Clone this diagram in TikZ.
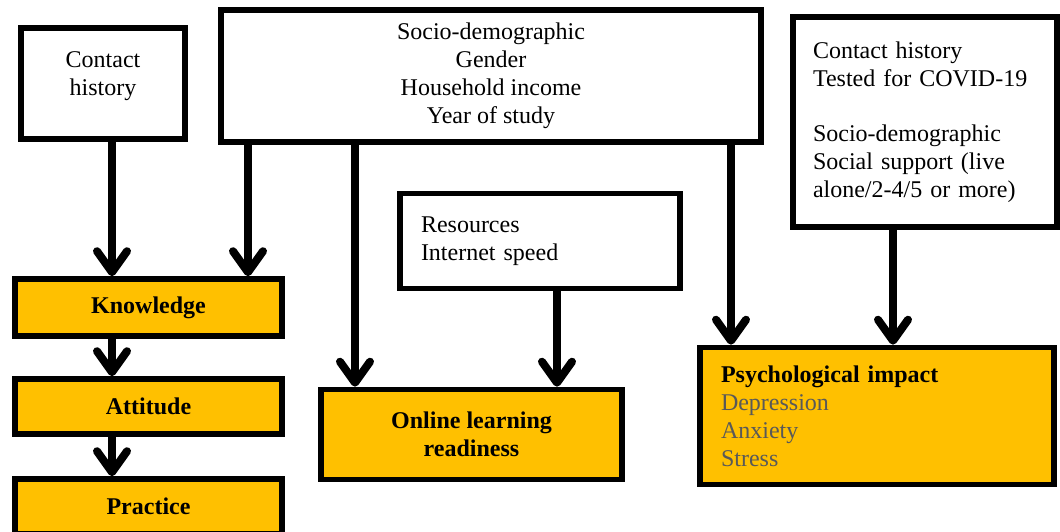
\documentclass[tikz,border=0pt]{standalone}
\usepackage{fontspec}
\setmainfont{Liberation Serif}
\usepackage{xcolor}
\usetikzlibrary{arrows.meta}
\definecolor{kapgold}{HTML}{FFC000}
\definecolor{kapgrey}{HTML}{595959}

\begin{document}
\begin{tikzpicture}[x=0.5pt, y=-0.5pt,
  every node/.style={font=\fontsize{12}{14}\selectfont, align=center},
  box/.style={draw, line width=2.8pt, inner sep=0pt, fill=#1},
  box/.default=white,
  goldbox/.style={box=kapgold, font=\fontsize{12}{14}\selectfont\bfseries},
  arrow/.style={line width=4pt, -{Straight Barb[length=10.5pt, width=15pt, line cap=round, line join=round]}}
]
\useasboundingbox (0,0) rectangle (1060,531);

\node[box, minimum width=82pt, minimum height=55.5pt,
  label={[yshift=3.5pt, align=center]center:Contact\\history}] (ctx) at (103,83.5) {};
\node[box, minimum width=270pt, minimum height=66pt] (socio) at (491,76)
  {Socio-demographic\\Gender\\Household income\\Year of study};
\node[box, minimum width=132pt, minimum height=105pt, align=left, text width=112pt] (covid) at (925,122)
  {Contact history\\Tested for COVID-19\\[13.5pt]Socio-demographic\\Social support (live\\alone/2-4/5 or more)};
\node[box, minimum width=140pt, minimum height=47.5pt, align=left, text width=119pt] (res) at (540,241)
  {Resources\\Internet speed};

\node[goldbox, minimum width=133.5pt, minimum height=28.5pt] (know) at (148.5,307.5) {Knowledge};
\node[goldbox, minimum width=133.5pt, minimum height=27.5pt] (att) at (148.5,406.5) {Attitude};
\node[goldbox, minimum width=133.5pt, minimum height=27.5pt] (prac) at (148.5,506.5) {Practice};
\node[goldbox, minimum width=150.5pt, minimum height=45pt] (online) at (471.5,434.5) {Online learning\\readiness};
\node[box=kapgold, minimum width=177pt, minimum height=68.5pt, align=left, text width=156pt] (psych) at (877,416)
  {\textbf{Psychological impact}\\\textcolor{kapgrey}{Depression}\\\textcolor{kapgrey}{Anxiety}\\\textcolor{kapgrey}{Stress}};

\draw[arrow] ([xshift=4.5pt]ctx.south) -- ([xshift=-18.25pt]know.north);
\draw[arrow] ([xshift=-121.5pt]socio.south) -- ([xshift=49.75pt]know.north);
\draw[arrow] ([xshift=-18.25pt]know.south) -- ([xshift=-18.25pt]att.north);
\draw[arrow] ([xshift=-18.25pt]att.south) -- ([xshift=-18.25pt]prac.north);
\draw[arrow] ([xshift=-68pt]socio.south) -- ([xshift=-58.25pt]online.north);
\draw[arrow] ([xshift=8.5pt]res.south) -- ([xshift=42.75pt]online.north);
\draw[arrow] ([xshift=120pt]socio.south) -- ([xshift=-73pt]psych.north);
\draw[arrow] ([xshift=-16pt]covid.south) -- ([xshift=8pt]psych.north);

\end{tikzpicture}
\end{document}
